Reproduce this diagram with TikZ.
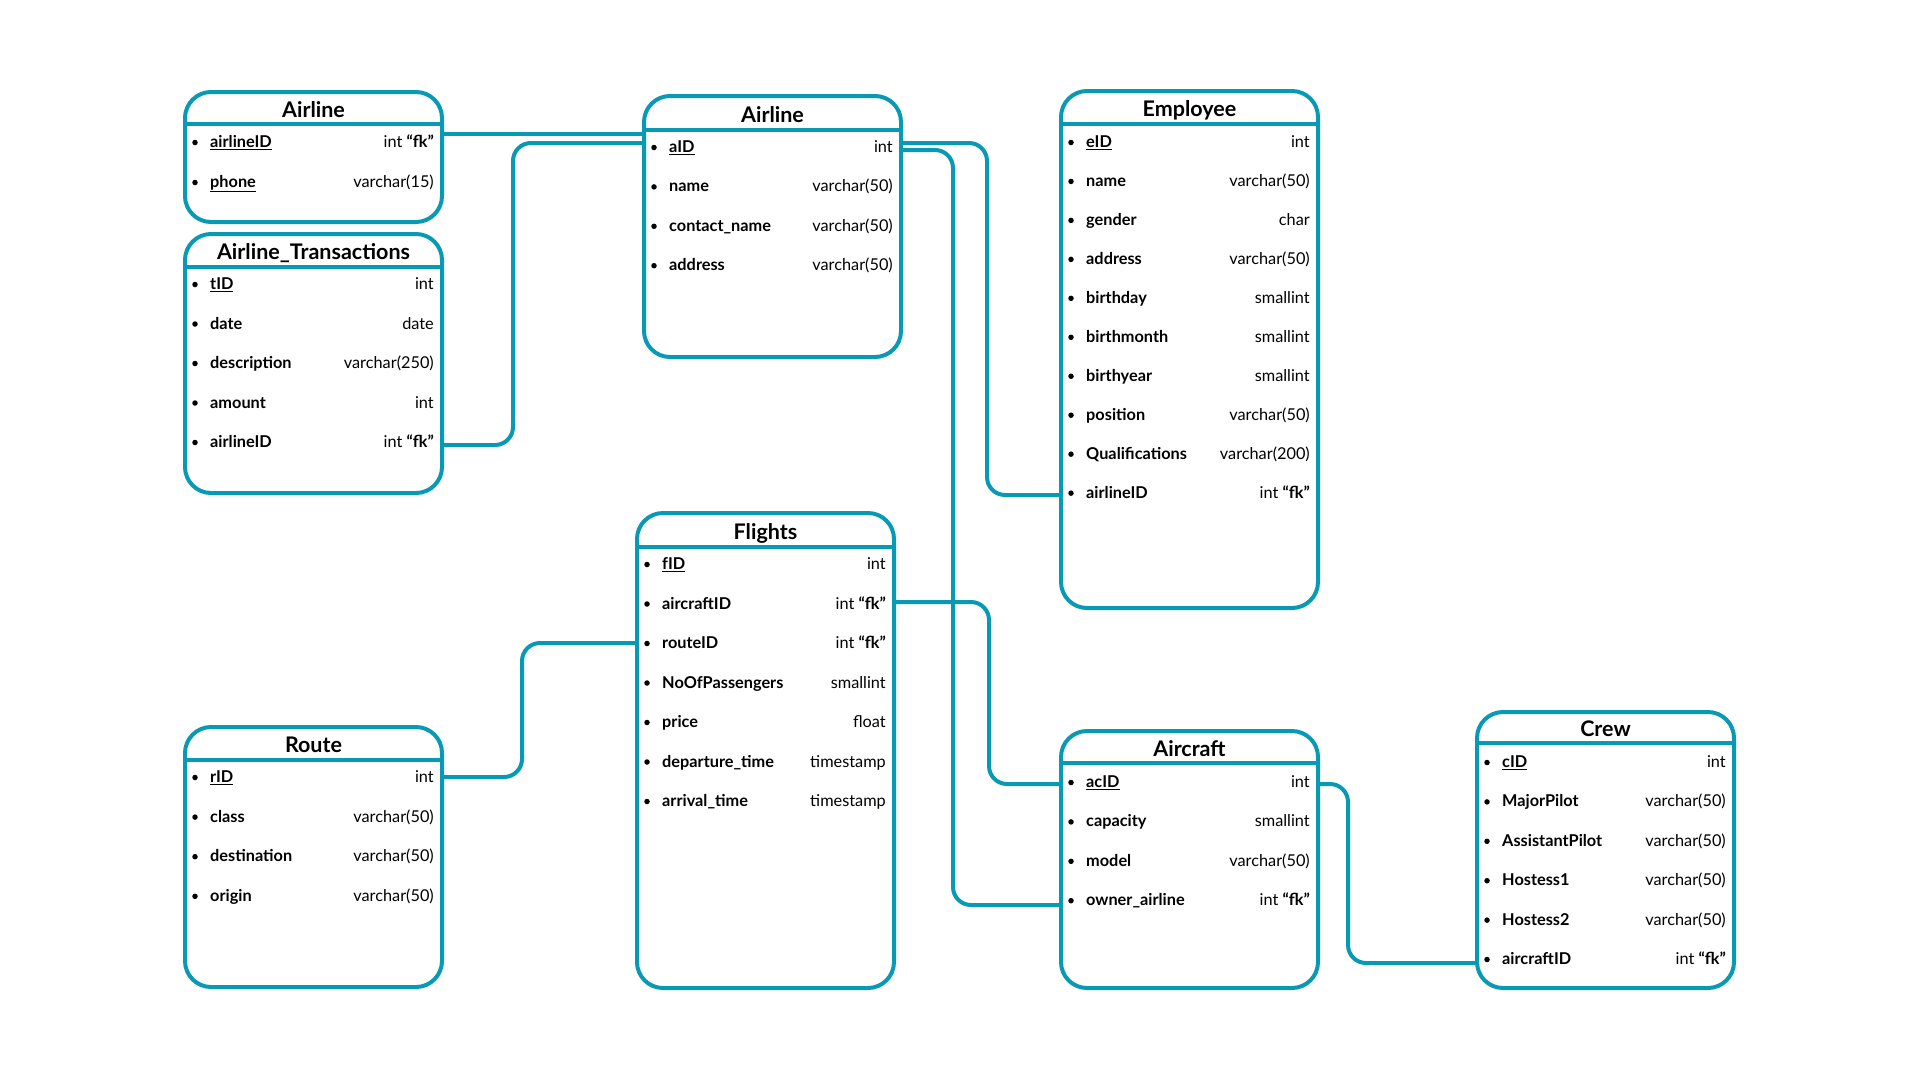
\documentclass[tikz,border=0pt]{standalone}
\usepackage{fontspec}
\setmainfont{Lato}
\usetikzlibrary{calc}
\definecolor{teal1}{RGB}{8,154,181}
\tikzset{
  x=1pt, y=-1pt,
  tbl/.style={draw=teal1, line width=4pt, rounded corners=26pt, inner sep=0pt, outer sep=0pt, minimum width=257pt},
  hdr/.style={draw=teal1, line width=4pt},
  conn/.style={draw=teal1, line width=4pt, rounded corners=18pt},
  ttl/.style={font=\fontsize{21.5}{25}\selectfont\bfseries, inner sep=0pt, anchor=base},
  fname/.style={font=\fontsize{16.3}{19}\selectfont\bfseries, anchor=base west, inner sep=0pt},
  ftype/.style={font=\fontsize{16.3}{19}\selectfont, anchor=base east, inner sep=0pt},
  dot/.style={circle, fill=black, inner sep=0pt, minimum size=5.5pt},
}
\newcommand{\pk}[1]{\underline{#1}}
\newcommand{\fkey}{int \textbf{“fk”}}
% name, left, top, bottom, header y, first row y, row spacing, title, rows
\newcommand{\ertbl}[9]{%
  \node[tbl, minimum height={#4-#3}] (#1) at ({#2+128.5},{(#3+#4)/2}) {};
  \draw[hdr] (#1.west |- 0,#5) -- (#1.east |- 0,#5);
  \node[ttl] (#1-title) at ({#2+128.5},{(#3+#5)/2+9}) {#8};
  \foreach \fn/\ft [count=\i] in {#9} {
    \pgfmathsetmacro\yy{#6+(\i-1)*#7}
    \node[dot] (#1-d\i) at ({#2+10},{\yy+0.5}) {};
    \node[fname] (#1-n\i) at ({#2+25},{\yy+5.5}) {\fn};
    \node[ftype] (#1-t\i) at ({#2+249},{\yy+5.5}) {\ft};
  }
}
\begin{document}
\begin{tikzpicture}
\fill[white] (0,0) rectangle (1920,1080);
\useasboundingbox (0,0) rectangle (1920,1080);

\ertbl{airA}{185}{92}{222}{124}{142}{40}{Airline}{\pk{airlineID}/\fkey, \pk{phone}/varchar(15)}
\ertbl{trans}{185}{234}{493}{267}{284}{39.5}{Airline\_Transactions}{\pk{tID}/int, date/date, description/varchar(250), amount/int, airlineID/\fkey}
\ertbl{airB}{644}{96}{357}{130}{147}{39.4}{Airline}{\pk{aID}/int, name/varchar(50), contact\_name/varchar(50), address/varchar(50)}
\ertbl{emp}{1061}{91}{608}{124}{142}{38.96}{Employee}{\pk{eID}/int, name/varchar(50), gender/char, address/varchar(50), birthday/smallint, birthmonth/smallint, birthyear/smallint, position/varchar(50), Qualifications/varchar(200), airlineID/\fkey}
\ertbl{fl}{637}{513}{988}{547}{564}{39.5}{Flights}{\pk{fID}/int, aircraftID/\fkey, routeID/\fkey, NoOfPassengers/smallint, price/float, departure\_time/timestamp, arrival\_time/timestamp}
\ertbl{rt}{185}{727}{987}{760}{777}{39.6}{Route}{\pk{rID}/int, class/varchar(50), destination/varchar(50), origin/varchar(50)}
\ertbl{acft}{1061}{731}{988}{763}{782}{39.4}{Aircraft}{\pk{acID}/int, capacity/smallint, model/varchar(50), owner\_airline/\fkey}
\ertbl{crew}{1477}{712}{988}{743}{762}{39.4}{Crew}{\pk{cID}/int, MajorPilot/varchar(50), AssistantPilot/varchar(50), Hostess1/varchar(50), Hostess2/varchar(50), aircraftID/\fkey}

% connectors
\draw[conn] (airA.east |- 0,134) -- (airB.west |- 0,134);
\draw[conn] (trans.east |- 0,445) -- (513,445) -- (513,143) -- (airB.west |- 0,143);
\draw[conn] (airB.east |- 0,143) -- (987,143) -- (987,495) -- (emp.west |- 0,495);
\draw[conn] (airB.east |- 0,150) -- (953,150) -- (953,905) -- (acft.west |- 0,905);
\draw[conn] (fl.east |- 0,602) -- (989,602) -- (989,784) -- (acft.west |- 0,784);
\draw[conn] (rt.east |- 0,777) -- (522,777) -- (522,643) -- (fl.west |- 0,643);
\draw[conn] (acft.east |- 0,784) -- (1348,784) -- (1348,963) -- (crew.west |- 0,963);
\end{tikzpicture}
\end{document}
